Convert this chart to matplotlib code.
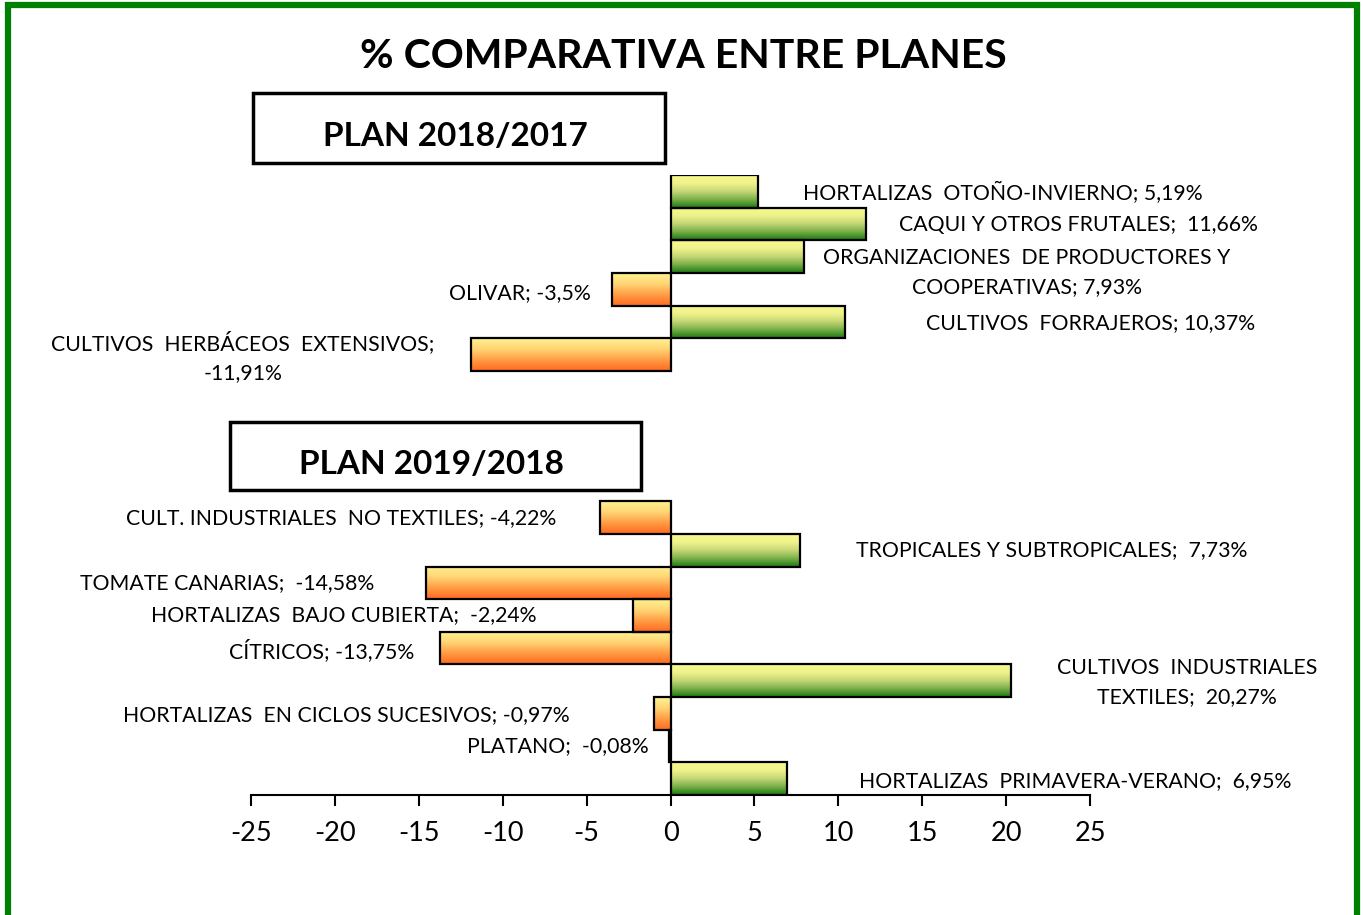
import matplotlib
matplotlib.use("Agg")
import matplotlib.pyplot as plt
from matplotlib.patches import Rectangle
from matplotlib.colors import LinearSegmentedColormap
import numpy as np

plt.rcParams['font.family'] = ['Lato', 'DejaVu Sans']
plt.rcParams['axes.unicode_minus'] = False

# bar order from top to bottom; None marks the gap between the two plans
CATEGORIES = [
    "HORTALIZAS OTOÑO-INVIERNO", "CAQUI Y OTROS FRUTALES",
    "ORGANIZACIONES DE PRODUCTORES Y COOPERATIVAS", "OLIVAR",
    "CULTIVOS FORRAJEROS", "CULTIVOS HERBÁCEOS EXTENSIVOS",
    None, None, None, None,
    "CULT. INDUSTRIALES NO TEXTILES", "TROPICALES Y SUBTROPICALES",
    "TOMATE CANARIAS", "HORTALIZAS BAJO CUBIERTA", "CÍTRICOS",
    "CULTIVOS INDUSTRIALES TEXTILES", "HORTALIZAS EN CICLOS SUCESIVOS",
    "PLATANO", "HORTALIZAS PRIMAVERA-VERANO",
]
VALUES = [5.19, 11.66, 7.93, -3.5, 10.37, -11.91,
          None, None, None, None,
          -4.22, 7.73, -14.58, -2.24, -13.75, 20.27, -0.97, -0.08, 6.95]
LABELS = [
    "HORTALIZAS  OTOÑO-INVIERNO; 5,19%",
    "CAQUI Y OTROS FRUTALES;  11,66%",
    "ORGANIZACIONES  DE PRODUCTORES Y\nCOOPERATIVAS; 7,93%",
    "OLIVAR; -3,5%",
    "CULTIVOS  FORRAJEROS; 10,37%",
    "CULTIVOS  HERBÁCEOS  EXTENSIVOS;\n-11,91%",
    None, None, None, None,
    "CULT. INDUSTRIALES  NO TEXTILES; -4,22%",
    "TROPICALES Y SUBTROPICALES;  7,73%",
    "TOMATE CANARIAS;  -14,58%",
    "HORTALIZAS  BAJO CUBIERTA;  -2,24%",
    "CÍTRICOS; -13,75%",
    "CULTIVOS  INDUSTRIALES\nTEXTILES;  20,27%",
    "HORTALIZAS  EN CICLOS SUCESIVOS; -0,97%",
    "PLATANO;  -0,08%",
    "HORTALIZAS  PRIMAVERA-VERANO;  6,95%",
]
# label centre (x in data units, y offset in bar rows)
LABEL_X = [19.8, 24.3, 21.25, -9.0, 25.05, -25.5,
           None, None, None, None,
           -19.6, 22.7, -26.4, -19.45, -20.8, 30.8, -19.3, -6.7, 24.1]
LABEL_DY = [0.05, 0.03, 0.48, 0.12, 0.04, 0.07,
            0, 0, 0, 0,
            0.02, 0.0, 0.0, 0.0, 0.07, 0.05, 0.06, 0.0, 0.06]

GREEN = LinearSegmentedColormap.from_list(
    "g", ["#f8f890", "#f0f28a", "#c4d676", "#78ae46", "#1e7a14"])
ORANGE = LinearSegmentedColormap.from_list(
    "o", ["#fff290", "#ffd474", "#ff9c44", "#ff6a20"])

W, H = 1363, 915
fig = plt.figure(figsize=(W / 100, H / 100), dpi=100)
ax = fig.add_axes([251 / W, 1 - 795 / H, 839 / W, 620 / H])

grad = np.linspace(0, 1, 64).reshape(-1, 1)
for i, v in enumerate(VALUES):
    if v is None:
        continue
    x0, x1 = min(0, v), max(0, v)
    cmap = GREEN if v >= 0 else ORANGE
    ax.imshow(grad, cmap=cmap, aspect="auto", extent=[x0, x1, i + 0.5, i - 0.5],
              interpolation="bilinear", zorder=2)
ys = [i for i, v in enumerate(VALUES) if v is not None]
vs = [v for v in VALUES if v is not None]
ax.barh(ys, vs, height=1.0, facecolor="none", edgecolor="black", linewidth=1.6, zorder=3)

for i, lab in enumerate(LABELS):
    if lab is None:
        continue
    ax.text(LABEL_X[i], i + LABEL_DY[i], lab, ha="center", va="center",
            fontsize=15.3, color="black", linespacing=1.55, clip_on=False)

ax.set_xlim(-25, 25)
ax.set_ylim(len(VALUES) - 0.5, -0.5)
ax.set_xticks(np.arange(-25, 26, 5))
ax.set_yticks([])
for s in ["top", "right", "left"]:
    ax.spines[s].set_visible(False)
ax.spines["bottom"].set_linewidth(1.5)
ax.tick_params(axis="x", direction="out", length=8, width=1.5, labelsize=19.5, pad=11)
ax.set_facecolor("none")

fig.text(683 / W, 1 - 57 / H, "% COMPARATIVA ENTRE PLANES", ha="center", va="center",
         fontsize=29.5, fontweight="bold")

for (bx0, by0, bx1, by1), txt in [((253, 93, 665, 163), "PLAN 2018/2017"),
                                  ((230, 422, 641, 490), "PLAN 2019/2018")]:
    fig.patches.append(Rectangle((bx0 / W, 1 - by1 / H), (bx1 - bx0) / W, (by1 - by0) / H,
                                 transform=fig.transFigure, facecolor="white",
                                 edgecolor="black", linewidth=2.5))
    fig.text((bx0 + bx1) / 2 / W - 4 / W, 1 - ((by0 + by1) / 2 + 9) / H, txt,
             ha="center", va="center", fontsize=24, fontweight="bold")

# green frame
fig.patches.append(Rectangle((7.5 / W, -0.05), (1356.5 - 7.5) / W, 1.05 - 5 / H,
                             transform=fig.transFigure, facecolor="none",
                             edgecolor="#008000", linewidth=4.5))

fig.savefig("out.png", dpi=100)
